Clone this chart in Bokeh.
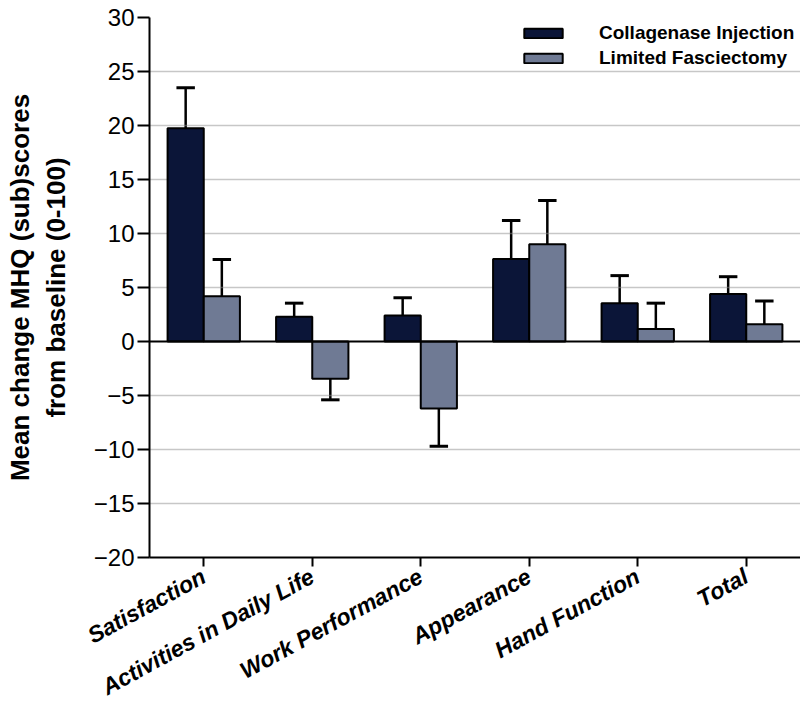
from bokeh.plotting import figure
from bokeh.models import ColumnDataSource, Range1d, FixedTicker, Span, Legend, LegendItem
from bokeh.transform import dodge
from bokeh.embed import file_html
from bokeh.resources import INLINE

categories = ["Satisfaction", "Activities in Daily Life", "Work Performance",
              "Appearance", "Hand Function", "Total"]
collagenase = [19.75, 2.3, 2.4, 7.65, 3.55, 4.4]
collagenase_err = [3.75, 1.25, 1.65, 3.55, 2.55, 1.6]
fasciectomy = [4.2, -3.45, -6.2, 9.0, 1.15, 1.6]
fasciectomy_err = [3.4, 1.95, 3.5, 4.05, 2.4, 2.15]
y_ticks = [-20, -15, -10, -5, 0, 5, 10, 15, 20, 25, 30]

DARK = "#0b1538"
LIGHT = "#6f7a94"

def tips(vals, errs):
    return [v + (e if v >= 0 else -e) for v, e in zip(vals, errs)]

src = ColumnDataSource(dict(
    cat=categories,
    ci=collagenase, ci_tip=tips(collagenase, collagenase_err),
    lf=fasciectomy, lf_tip=tips(fasciectomy, fasciectomy_err),
))

p = figure(x_range=categories, y_range=Range1d(-20, 30),
           width=800, height=714, output_backend="svg", toolbar_location=None,
           min_border_left=149, min_border_right=0, min_border_top=17, min_border_bottom=157)
p.background_fill_color = "white"
p.border_fill_color = "white"
p.outline_line_color = None

bw = 1 / 3
off = 1 / 6
cap = 0.085

r1 = p.vbar(x=dodge("cat", -off, range=p.x_range), top="ci", width=bw, source=src,
            fill_color=DARK, line_color="black", line_width=2)
r2 = p.vbar(x=dodge("cat", off, range=p.x_range), top="lf", width=bw, source=src,
            fill_color=LIGHT, line_color="black", line_width=2)

for o, v, t in [(-off, "ci", "ci_tip"), (off, "lf", "lf_tip")]:
    p.segment(x0=dodge("cat", o, range=p.x_range), y0=v,
              x1=dodge("cat", o, range=p.x_range), y1=t,
              source=src, line_color="black", line_width=2.5, level="underlay")
    p.segment(x0=dodge("cat", o - cap, range=p.x_range), y0=t,
              x1=dodge("cat", o + cap, range=p.x_range), y1=t,
              source=src, line_color="black", line_width=3)

p.add_layout(Span(location=0, dimension="width", line_color="black", line_width=2))

# grid
p.xgrid.grid_line_color = None
p.ygrid.ticker = FixedTicker(ticks=[t for t in y_ticks if t != 0])
p.ygrid.grid_line_color = "#8f8f8f"
p.ygrid.grid_line_width = 1.5
p.ygrid.grid_line_dash = "1 1"

# y axis
p.yaxis.ticker = FixedTicker(ticks=y_ticks)
p.yaxis.axis_line_width = 2
p.yaxis.axis_line_color = "black"
p.yaxis.major_tick_line_width = 2
p.yaxis.major_tick_line_color = "black"
p.yaxis.major_tick_out = 12
p.yaxis.major_tick_in = 0
p.yaxis.minor_tick_line_color = None
p.yaxis.major_label_standoff = 3
p.yaxis.major_label_text_font = "Liberation Sans"
p.yaxis.major_label_text_font_size = "24px"
p.yaxis.major_label_text_color = "black"
p.yaxis.axis_label = "Mean change MHQ (sub)scores\nfrom baseline (0-100)"
p.yaxis.axis_label_text_font = "Liberation Sans"
p.yaxis.axis_label_text_font_style = "bold"
p.yaxis.axis_label_text_font_size = "26px"
p.yaxis.axis_label_text_color = "black"
p.yaxis.axis_label_standoff = 20

# x axis
p.xaxis.axis_line_width = 2
p.xaxis.axis_line_color = "black"
p.xaxis.major_tick_line_width = 2
p.xaxis.major_tick_line_color = "black"
p.xaxis.major_tick_out = 9
p.xaxis.major_tick_in = 0
p.xaxis.major_label_orientation = 0.5
p.xaxis.major_label_standoff = 8
p.xaxis.major_label_text_font = "Liberation Sans"
p.xaxis.major_label_text_font_style = "bold italic"
p.xaxis.major_label_text_font_size = "23px"
p.xaxis.major_label_text_color = "black"

legend = Legend(items=[LegendItem(label="Collagenase Injection", renderers=[r1]),
                       LegendItem(label="Limited Fasciectomy", renderers=[r2])],
                location=(370, 488))
legend.margin = 0
legend.padding = 0
legend.spacing = 3
legend.glyph_width = 48
legend.glyph_height = 12
legend.label_standoff = 32
legend.label_text_font = "Liberation Sans"
legend.label_text_font_style = "bold"
legend.label_text_font_size = "19px"
legend.label_text_color = "black"
legend.background_fill_alpha = 0
legend.border_line_alpha = 0
p.add_layout(legend)

open("out.html", "w").write(file_html(p, INLINE))
